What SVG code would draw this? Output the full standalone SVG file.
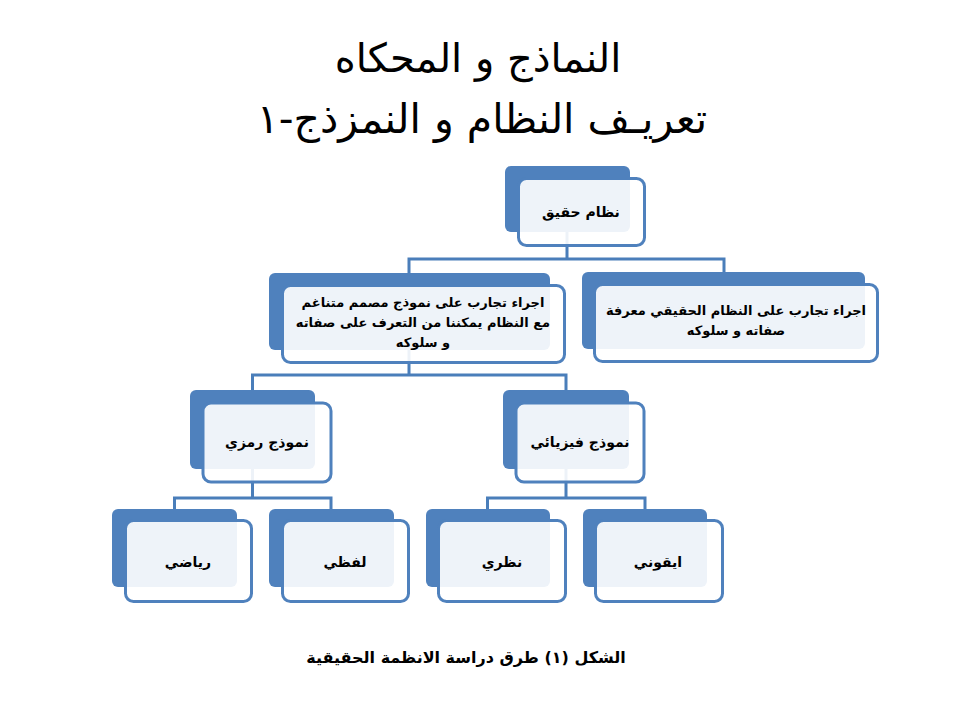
<svg xmlns="http://www.w3.org/2000/svg" width="960" height="720" viewBox="0 0 960 720">
<style>
.back{fill:#4F81BD}
.front{fill:#FFFFFF;fill-opacity:0.9;stroke:#4F81BD;stroke-width:3}
.conn{fill:none;stroke:#4A7EBA;stroke-width:3}
.t{font-family:"DejaVu Sans",sans-serif;font-weight:bold;font-size:14px;fill:#000;text-anchor:middle}
.s{font-size:13px}
.title{font-family:"DejaVu Sans",sans-serif;font-size:40px;fill:#000;text-anchor:middle}
.title2{font-size:41px}
.cap{font-family:"DejaVu Sans",sans-serif;font-weight:bold;font-size:16px;fill:#000;text-anchor:middle}
</style>
<rect width="960" height="720" fill="#fff"/>
<text class="title" x="478" y="72" direction="rtl">النماذج و المحكاه</text>
<text class="title title2" x="482" y="133" direction="rtl">تعريـف النظام و النمزذج-١</text>
<g id="connectors">
<path class="conn" d="M567,231 V259 M409,273 V259 H724 V272"/>
<path class="conn" d="M409,349 V375 M252.5,390 V375 H566 V390"/>
<path class="conn" d="M252.5,469 V498 M174.5,509 V498 H331 V509"/>
<path class="conn" d="M566,469 V498 M487.5,509 V498 H645 V509"/>
</g>
<g id="root">
<rect class="back" x="505" y="166" width="125" height="66" rx="6"/>
<rect class="front" x="518.5" y="178.5" width="126" height="67" rx="8"/>
<text class="t" x="581" y="217" direction="rtl">نظام حقيق</text>
</g>
<g id="model-experiment">
<rect class="back" x="269" y="273" width="281" height="77" rx="6"/>
<rect class="front" x="282.5" y="285.5" width="282" height="77" rx="8"/>
<text class="t s" x="423" y="307" direction="rtl">اجراء تجارب على نموذج مصمم متناغم</text>
<text class="t s" x="423" y="327" direction="rtl">مع النظام يمكننا من التعرف على صفاته</text>
<text class="t s" x="423" y="347" direction="rtl">و سلوكه</text>
</g>
<g id="real-experiment">
<rect class="back" x="582" y="272" width="283" height="77" rx="6"/>
<rect class="front" x="594.5" y="284.5" width="283" height="77" rx="8"/>
<text class="t s" x="736" y="315" direction="rtl">اجراء تجارب على النظام الحقيقي معرفة</text>
<text class="t s" x="736" y="335" direction="rtl">صفاته و سلوكه</text>
</g>
<g id="symbolic">
<rect class="back" x="190" y="390" width="125" height="79" rx="6"/>
<rect class="front" x="203" y="403" width="128" height="79" rx="8"/>
<text class="t" x="267" y="447" direction="rtl">نموذج رمزي</text>
</g>
<g id="physical">
<rect class="back" x="503" y="390" width="126" height="79" rx="6"/>
<rect class="front" x="516" y="403" width="128" height="79" rx="8"/>
<text class="t" x="580" y="447" direction="rtl">نموذج فيزيائي</text>
</g>
<g id="math">
<rect class="back" x="112" y="509" width="125" height="78" rx="6"/>
<rect class="front" x="125.5" y="520.5" width="126" height="81" rx="8"/>
<text class="t" x="188" y="567" direction="rtl">رياضي</text>
</g>
<g id="verbal">
<rect class="back" x="269" y="509" width="125" height="78" rx="6"/>
<rect class="front" x="282.5" y="520.5" width="126" height="81" rx="8"/>
<text class="t" x="345" y="567" direction="rtl">لفظي</text>
</g>
<g id="analog">
<rect class="back" x="426" y="509" width="124" height="78" rx="6"/>
<rect class="front" x="438.5" y="520.5" width="127" height="81" rx="8"/>
<text class="t" x="502" y="567" direction="rtl">نظري</text>
</g>
<g id="iconic">
<rect class="back" x="583" y="509" width="124" height="78" rx="6"/>
<rect class="front" x="595.5" y="520.5" width="127" height="81" rx="8"/>
<text class="t" x="658" y="567" direction="rtl">ايقوني</text>
</g>
<text class="cap" x="466" y="663" direction="rtl">الشكل (١) طرق دراسة الانظمة الحقيقية</text>
</svg>
